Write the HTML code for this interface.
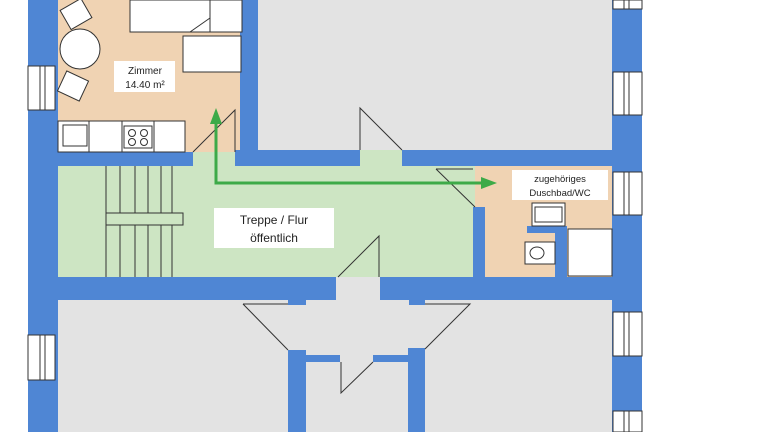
<!DOCTYPE html>
<html><head><style>html,body{margin:0;padding:0;background:#fff}svg{display:block}</style></head>
<body>
<svg width="768" height="432" viewBox="0 0 768 432" xmlns="http://www.w3.org/2000/svg" font-family="Liberation Sans, sans-serif">
<rect width="768" height="432" fill="#fff"/>
<!-- floors -->
<rect x="58" y="150" width="417" height="127" fill="#cde5c3"/>
<rect x="58" y="0" width="182" height="152" fill="#f0d3b3"/>
<rect x="258" y="0" width="354" height="150" fill="#e3e3e3"/>
<rect x="475" y="166" width="137" height="111" fill="#f0d3b3"/>
<rect x="58" y="300" width="554" height="132" fill="#e3e3e3"/>
<rect x="336" y="277" width="44" height="23" fill="#e3e3e3"/>
<!-- walls -->
<g fill="#4f86d4">
<rect x="28" y="0" width="30" height="432"/>
<rect x="612" y="0" width="30" height="432"/>
<rect x="240" y="0" width="18" height="166"/>
<rect x="58" y="152" width="135" height="14"/>
<rect x="235" y="150" width="125" height="16"/>
<rect x="402" y="150" width="210" height="16"/>
<rect x="473" y="207" width="12" height="70"/>
<rect x="527" y="226" width="40" height="7"/>
<rect x="555" y="226" width="12" height="51"/>
<rect x="58" y="277" width="278" height="23"/>
<rect x="380" y="277" width="232" height="23"/>
<rect x="288" y="300" width="18" height="5"/>
<rect x="409" y="300" width="16" height="5"/>
<rect x="288" y="350" width="18" height="82"/>
<rect x="408" y="348" width="17" height="84"/>
<rect x="306" y="355" width="34" height="7"/>
<rect x="373" y="355" width="35" height="7"/>
</g>
<!-- windows -->
<g fill="#fff" stroke="#333" stroke-width="1">
<rect x="28" y="66" width="27" height="44"/>
<rect x="28" y="335" width="27" height="45"/>
<rect x="613" y="0" width="29" height="9"/>
<rect x="613" y="72" width="29" height="43"/>
<rect x="613" y="172" width="29" height="43"/>
<rect x="613" y="312" width="29" height="44"/>
<rect x="613" y="411" width="29" height="21"/>
</g>
<g stroke="#333" stroke-width="1">
<line x1="40" y1="66" x2="40" y2="110"/><line x1="45" y1="66" x2="45" y2="110"/>
<line x1="40" y1="335" x2="40" y2="380"/><line x1="45" y1="335" x2="45" y2="380"/>
<line x1="624" y1="0" x2="624" y2="9"/><line x1="629" y1="0" x2="629" y2="9"/>
<line x1="624" y1="72" x2="624" y2="115"/><line x1="629" y1="72" x2="629" y2="115"/>
<line x1="624" y1="172" x2="624" y2="215"/><line x1="629" y1="172" x2="629" y2="215"/>
<line x1="624" y1="312" x2="624" y2="356"/><line x1="629" y1="312" x2="629" y2="356"/>
<line x1="624" y1="411" x2="624" y2="432"/><line x1="629" y1="411" x2="629" y2="432"/>
</g>
<!-- furniture -->
<g fill="#fff" stroke="#333" stroke-width="1">
<rect x="130" y="0" width="80" height="32"/>
<rect x="210" y="0" width="32" height="32"/>
<rect x="183" y="36" width="58" height="36"/>
<circle cx="80" cy="49" r="20"/>
<rect x="64" y="3" width="24" height="22" transform="rotate(-30 76 14)"/>
<rect x="61" y="75" width="24" height="22" transform="rotate(25 73 86)"/>
<rect x="58" y="121" width="127" height="31"/>
<rect x="63" y="125" width="24" height="21"/>
<rect x="124" y="126" width="28" height="22"/>
<circle cx="132" cy="133" r="3.5"/><circle cx="144" cy="133" r="3.5"/>
<circle cx="132" cy="142" r="3.5"/><circle cx="144" cy="142" r="3.5"/>
<rect x="532" y="203" width="33" height="23"/>
<rect x="535" y="207" width="27" height="15"/>
<rect x="525" y="242" width="30" height="22"/>
<ellipse cx="537" cy="253" rx="7" ry="6"/>
<rect x="568" y="229" width="44" height="47"/>
</g>
<g stroke="#333" stroke-width="1" fill="none">
<line x1="89" y1="121" x2="89" y2="152"/><line x1="122" y1="121" x2="122" y2="152"/><line x1="154" y1="121" x2="154" y2="152"/>
<polyline points="190,32 210,18"/>
<line x1="106" y1="166" x2="106" y2="277"/><line x1="120" y1="166" x2="120" y2="277"/>
<line x1="135" y1="166" x2="135" y2="277"/><line x1="148" y1="166" x2="148" y2="277"/>
<line x1="161" y1="166" x2="161" y2="277"/><line x1="172" y1="166" x2="172" y2="277"/>
<rect x="106" y="213" width="77" height="12" fill="#cde5c3"/>
<polyline points="193,152 235,110 235,152"/>
<polyline points="360,150 360,108 402,150"/>
<polyline points="436,169 473,169"/>
<polyline points="436,169 475,207"/>
<polyline points="338,277 379,236 379,277"/>
<polyline points="243,304 288,304"/><polyline points="243,304 288,350"/>
<polyline points="425,304 470,304 425,349"/>
<polyline points="341,362 341,393 373,362"/>
</g>
<g stroke="#3daa48" stroke-width="3" fill="none"><polyline points="216,122 216,183 486,183"/></g>
<polygon points="216,108 210,124 222,124" fill="#3daa48"/>
<polygon points="497,183 481,177 481,189" fill="#3daa48"/>
<rect x="114" y="61" width="61" height="31" fill="#fff"/>
<text x="145" y="74" font-size="10" text-anchor="middle" fill="#222">Zimmer</text>
<text x="145" y="88" font-size="10" text-anchor="middle" fill="#222">14.40 m²</text>
<rect x="214" y="208" width="120" height="40" fill="#fff"/>
<text x="274" y="224" font-size="12" text-anchor="middle" fill="#222">Treppe / Flur</text>
<text x="274" y="242" font-size="12" text-anchor="middle" fill="#222">öffentlich</text>
<rect x="512" y="170" width="96" height="30" fill="#fff"/>
<text x="560" y="182" font-size="9.5" text-anchor="middle" fill="#222">zugehöriges</text>
<text x="560" y="196" font-size="9.5" text-anchor="middle" fill="#222">Duschbad/WC</text>
</svg>
</body></html>
